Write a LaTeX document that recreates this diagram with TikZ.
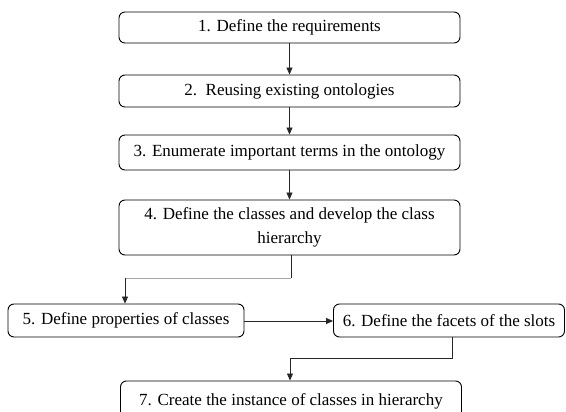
\documentclass[tikz,border=0pt]{standalone}
\usepackage{fontspec}
\setmainfont{Liberation Serif}
\usetikzlibrary{arrows.meta}
\begin{document}
\begin{tikzpicture}[x=1pt,y=-1pt,
  stepbox/.style={draw=black, line width=0.9pt, rounded corners=6pt, inner sep=0pt, align=center,
    font=\fontsize{17}{24}\selectfont},
  conn/.style={line width=0.8pt, draw=black!85},
  arr/.style={conn, -{Triangle[length=7pt,width=6pt]}}]
\useasboundingbox (0,0) rectangle (566,412);
\node[stepbox, minimum width=341pt, minimum height=31pt] (b1) at (289.5,27.5) {1. Define the requirements};
\node[stepbox, minimum width=341pt, minimum height=32pt] (b2) at (289.5,91) {2.\ \ Reusing existing ontologies};
\node[stepbox, minimum width=341pt, minimum height=35pt] (b3) at (289.5,152.5) {3. Enumerate important terms in the ontology};
\node[stepbox, minimum width=341pt, minimum height=55pt] (b4) at (289.5,227.5) {4. Define the classes and develop the class\\hierarchy};
\node[stepbox, minimum width=236pt, minimum height=33pt] (b5) at (126,320.5) {5. Define properties of classes};
\node[stepbox, minimum width=231pt, minimum height=33pt] (b6) at (449,320.5) {6. Define the facets of the slots};
\node[stepbox, minimum width=341pt, minimum height=40pt] (b7) at (291,401) {7. Create the instance of classes in hierarchy};
\draw[arr] (b1) -- (b2);
\draw[arr] (b2) -- (b3);
\draw[arr] (b3) -- (b4);
\coordinate (c1) at (291,278);
\coordinate (c2) at (125,278);
\draw[conn] (b4.south -| c1) -- (c1);
\draw[line width=0.8pt, draw=black!35] (c1) -- (c2);
\draw[arr] (c2) -- (c2 |- b5.north);
\draw[arr] (b5.east |- 0,321) -- (b6.west |- 0,321);
\coordinate (c3) at (452,358);
\coordinate (c4) at (290,358);
\draw[arr] (b6.south -| c3) -- (c3) -- (c4) -- (c4 |- b7.north);
\end{tikzpicture}
\end{document}
